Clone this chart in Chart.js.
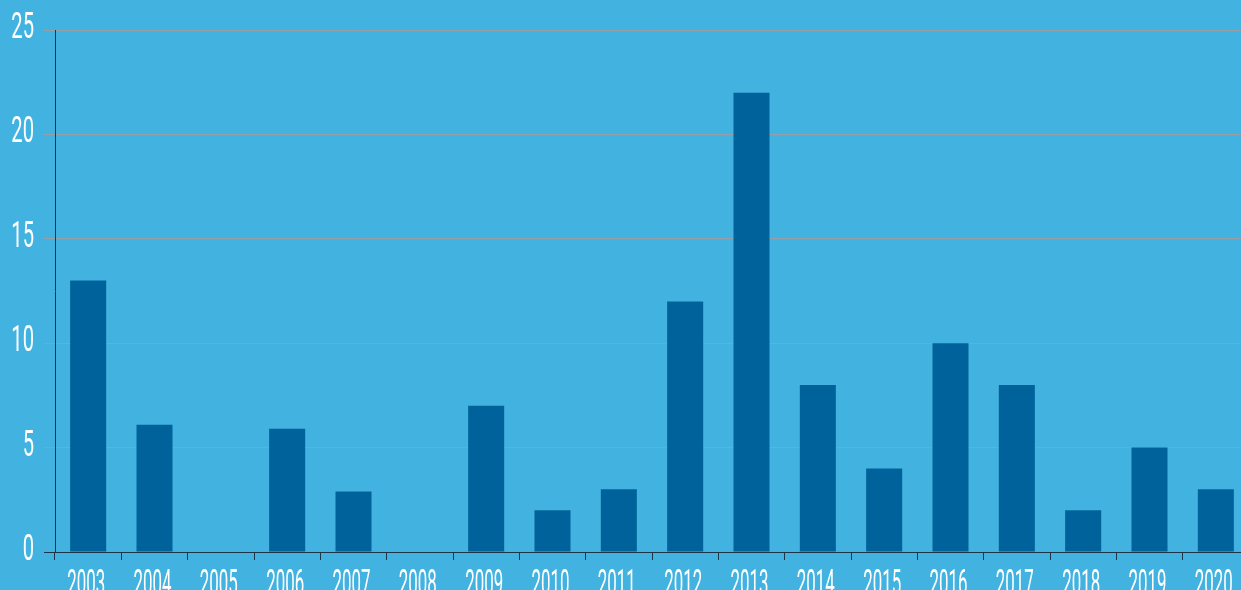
<!DOCTYPE html>
<html>
<head>
<meta charset="utf-8">
<script src="https://cdn.jsdelivr.net/npm/chart.js@4/dist/chart.umd.min.js"></script>
<style>
  html, body { margin: 0; padding: 0; background: #42b3e0; overflow: hidden; }
  #wrap { width: 1241px; height: 590px; overflow: hidden; position: relative; }
  #box { width: 1249px; height: 600px; position: absolute; left: 0; top: 0; }
</style>
</head>
<body>
<div id="wrap"><div id="box"><canvas id="barChart"></canvas></div></div>
<script>
const years  = ['2003', '2004', '2005', '2006', '2007', '2008', '2009', '2010', '2011',
                '2012', '2013', '2014', '2015', '2016', '2017', '2018', '2019', '2020'];
const counts = [13, 6.1, 0, 5.9, 2.9, 0, 7, 2, 3, 12, 22, 8, 4, 10, 8, 2, 5, 3];
const yTicks = [0, 5, 10, 15, 20, 25];

const BAR_COLOR  = '#00629b';
const GRID_COLOR = '#979ea6';
const AXIS_COLOR = '#1c3444';
const TEXT_COLOR = '#ffffff';
const FONT       = "Roboto, 'DejaVu Sans', sans-serif";

// the reference uses a very narrow display face, so squeeze the labels horizontally
const condensedLabels = {
    id: 'condensedLabels',
    afterDraw(chart) {
        const { ctx, scales: { x, y } } = chart;
        ctx.save();
        ctx.fillStyle = TEXT_COLOR;
        ctx.textBaseline = 'alphabetic';

        ctx.font = '36px ' + FONT;
        ctx.textAlign = 'right';
        yTicks.forEach(v => {
            ctx.save();
            ctx.translate(y.right - 21, y.getPixelForValue(v) + 8);
            ctx.scale(0.56, 1);
            ctx.fillText(String(v), 0, 0);
            ctx.restore();
        });

        ctx.font = '36px ' + FONT;
        ctx.textAlign = 'center';
        years.forEach((lab, i) => {
            ctx.save();
            ctx.translate(x.getPixelForValue(i) - 2, x.top + 43);
            ctx.scale(0.47, 1);
            ctx.fillText(lab, 0, 0);
            ctx.restore();
        });
        ctx.restore();
    }
};

new Chart(document.getElementById('barChart'), {
    type: 'bar',
    data: {
        labels: years,
        datasets: [{
            data: counts,
            backgroundColor: BAR_COLOR,
            borderWidth: 0,
            categoryPercentage: 1,
            barPercentage: 0.543
        }]
    },
    options: {
        responsive: true,
        maintainAspectRatio: false,
        animation: false,
        events: [],
        layout: { padding: { top: 30, right: 0, left: 0, bottom: 0 } },
        plugins: {
            legend: { display: false },
            tooltip: { enabled: false }
        },
        scales: {
            x: {
                grid: {
                    offset: true,
                    drawOnChartArea: false,
                    color: AXIS_COLOR,
                    tickLength: 8
                },
                border: { color: AXIS_COLOR, width: 1 },
                ticks: { display: false },
                afterFit: s => { s.height = 48; }
            },
            y: {
                min: 0,
                max: 25,
                afterBuildTicks: s => { s.ticks = yTicks.map(v => ({ value: v })); },
                grid: {
                    color: ctx => ctx.tick && ctx.tick.value === 0 ? AXIS_COLOR : GRID_COLOR,
                    tickLength: 11
                },
                border: { color: AXIS_COLOR, width: 1 },
                ticks: { display: false },
                afterFit: s => { s.width = 55; }
            }
        }
    },
    plugins: [condensedLabels]
});
</script>
</body>
</html>
